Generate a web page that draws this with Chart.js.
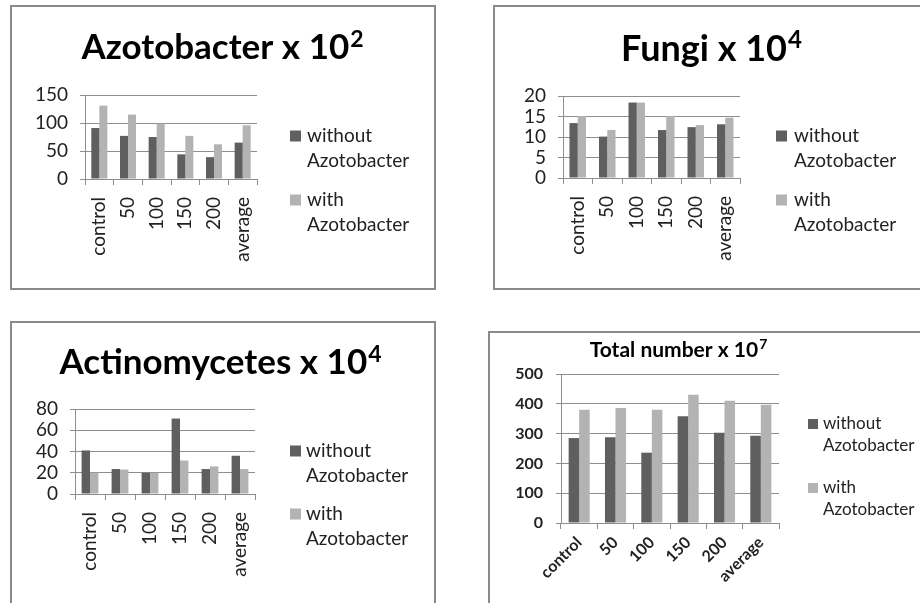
<!DOCTYPE html>
<html>
<head>
<meta charset="utf-8">
<script src="https://cdn.jsdelivr.net/npm/chart.js@4"></script>
<style>
  body { margin: 0; width: 920px; height: 603px; overflow: hidden; background: #fff; position: relative; }
  .panel { position: absolute; border: 2px solid #8a8a8a; background: #fff; }
  .panel canvas { display: block; }
</style>
</head>
<body>
<div class="panel" style="left:10px;top:5px;width:422px;height:281px"><canvas id="azo" width="422" height="281"></canvas></div>
<div class="panel" style="left:493px;top:5px;width:428px;height:281px"><canvas id="fungi" width="428" height="281"></canvas></div>
<div class="panel" style="left:10px;top:321px;width:422px;height:286px"><canvas id="actino" width="422" height="286"></canvas></div>
<div class="panel" style="left:488px;top:331px;width:433px;height:276px"><canvas id="total" width="433" height="276"></canvas></div>

<script>
// data
const categories = ["control", "50", "100", "150", "200", "average"];
const seriesLines = [["without", "Azotobacter"], ["with", "Azotobacter"]];

const azoWithout = [91, 77, 75, 44, 39, 65];
const azoWith = [131, 115, 99, 77, 62, 96];

const fungiWithout = [13.4, 10.1, 18.4, 11.7, 12.4, 13.1];
const fungiWith = [15.1, 11.7, 18.4, 15.1, 12.9, 14.7];

const actinoWithout = [41, 23.5, 20, 71, 23.5, 36];
const actinoWith = [20, 23, 20, 31.5, 26, 23.5];

const totalWithout = [285, 288, 236, 358, 303, 293];
const totalWith = [380, 386, 380, 430, 410, 397];

const DARK = "#5f5f5f";
const LIGHT = "#b3b3b3";
const GRID = "#8e8e8e";

// title with superscript + two-line legend on the right
const panelText = {
  id: "panelText",
  afterDraw(chart, args, o) {
    const ctx = chart.ctx;
    ctx.save();
    ctx.textBaseline = "middle";
    ctx.textAlign = "left";
    ctx.fillStyle = "#000";

    const mainFont = "bold " + o.titleSize + "px Lato";
    const supFont = "bold " + Math.round(o.titleSize * 0.66) + "px Lato";
    ctx.font = mainFont;
    const mainW = ctx.measureText(o.title).width;
    ctx.font = supFont;
    const supW = ctx.measureText(o.sup).width;
    const x0 = o.titleX - (mainW + supW) / 2;
    ctx.font = mainFont;
    ctx.fillText(o.title, x0, o.titleY);
    ctx.font = supFont;
    ctx.fillText(o.sup, x0 + mainW + 1, o.titleY - o.titleSize * 0.24);

    ctx.font = o.legendSize + "px Lato";
    chart.data.datasets.forEach((ds, i) => {
      const y = o.legendY[i];
      ctx.fillStyle = ds.backgroundColor;
      ctx.fillRect(o.boxX, y - o.box / 2, o.box, o.box);
      ctx.fillStyle = "#222";
      seriesLines[i].forEach((t, j) => ctx.fillText(t, o.textX, y + j * o.lineGap));
    });
    ctx.restore();
  }
};

function makeChart(id, without, withVals, yMax, yStep, p) {
  return new Chart(document.getElementById(id), {
    type: "bar",
    data: {
      labels: categories,
      datasets: [
        { label: seriesLines[0].join(" "), data: without, backgroundColor: DARK },
        { label: seriesLines[1].join(" "), data: withVals, backgroundColor: LIGHT }
      ]
    },
    plugins: [panelText],
    options: {
      responsive: false,
      animation: false,
      layout: { padding: { left: 0, top: p.top, right: p.right, bottom: 0 } },
      datasets: { bar: { categoryPercentage: p.catPct, barPercentage: 1 } },
      plugins: {
        legend: { display: false },
        title: { display: false },
        tooltip: { enabled: false },
        panelText: p.text
      },
      scales: {
        x: {
          grid: { drawOnChartArea: false, drawTicks: true, tickLength: 6, offset: true, color: GRID },
          border: { color: GRID, width: 1 },
          ticks: {
            color: "#222",
            font: { family: "Lato", size: p.xFont, weight: p.xWeight },
            minRotation: p.rot, maxRotation: p.rot, padding: p.xPad, autoSkip: false
          },
          afterFit: (s) => { s.height = p.xHeight; }
        },
        y: {
          min: 0, max: yMax,
          grid: { color: GRID, lineWidth: 1, tickLength: 5 },
          border: { color: GRID, width: 1 },
          ticks: {
            stepSize: yStep, color: "#222", padding: p.yPad,
            font: { family: "Lato", size: p.yFont, weight: p.yWeight, lineHeight: 0.8 }
          },
          afterFit: (s) => { s.width = p.yWidth; }
        }
      }
    }
  });
}

makeChart("azo", azoWithout, azoWith, 150, 50, {
  top: 88, right: 177, yWidth: 73, xHeight: 109, catPct: 0.56, yPad: 12,
  xFont: 19, xWeight: "normal", yFont: 19, yWeight: "normal", rot: 90, xPad: 12,
  text: { title: "Azotobacter x 10", sup: "2", titleSize: 35, titleX: 210, titleY: 41,
          legendSize: 19, boxX: 278, box: 11, textX: 295, legendY: [129, 193], lineGap: 25 }
});

makeChart("fungi", fungiWithout, fungiWith, 20, 5, {
  top: 89, right: 183, yWidth: 68, xHeight: 110, catPct: 0.56, yPad: 12,
  xFont: 19, xWeight: "normal", yFont: 19, yWeight: "normal", rot: 90, xPad: 12,
  text: { title: "Fungi x 10", sup: "4", titleSize: 36, titleX: 216, titleY: 42,
          legendSize: 19, boxX: 281, box: 11, textX: 299, legendY: [129, 193], lineGap: 25 }
});

makeChart("actino", actinoWithout, actinoWith, 80, 20, {
  top: 86, right: 179, yWidth: 63, xHeight: 115, catPct: 0.56, yPad: 12,
  xFont: 19, xWeight: "normal", yFont: 19, yWeight: "normal", rot: 90, xPad: 12,
  text: { title: "Actinomycetes x 10", sup: "4", titleSize: 35, titleX: 208, titleY: 40,
          legendSize: 19, boxX: 278, box: 11, textX: 294, legendY: [128, 191], lineGap: 25 }
});

makeChart("total", totalWithout, totalWith, 500, 100, {
  top: 41, right: 144, yWidth: 71, xHeight: 86, catPct: 0.58, yPad: 13,
  xFont: 16, xWeight: "bold", yFont: 16, yWeight: "bold", rot: 45, xPad: 4,
  text: { title: "Total number x 10", sup: "7", titleSize: 21, titleX: 188, titleY: 17,
          legendSize: 17, boxX: 318, box: 10, textX: 333, legendY: [91, 155], lineGap: 22 }
});
</script>
</body>
</html>
